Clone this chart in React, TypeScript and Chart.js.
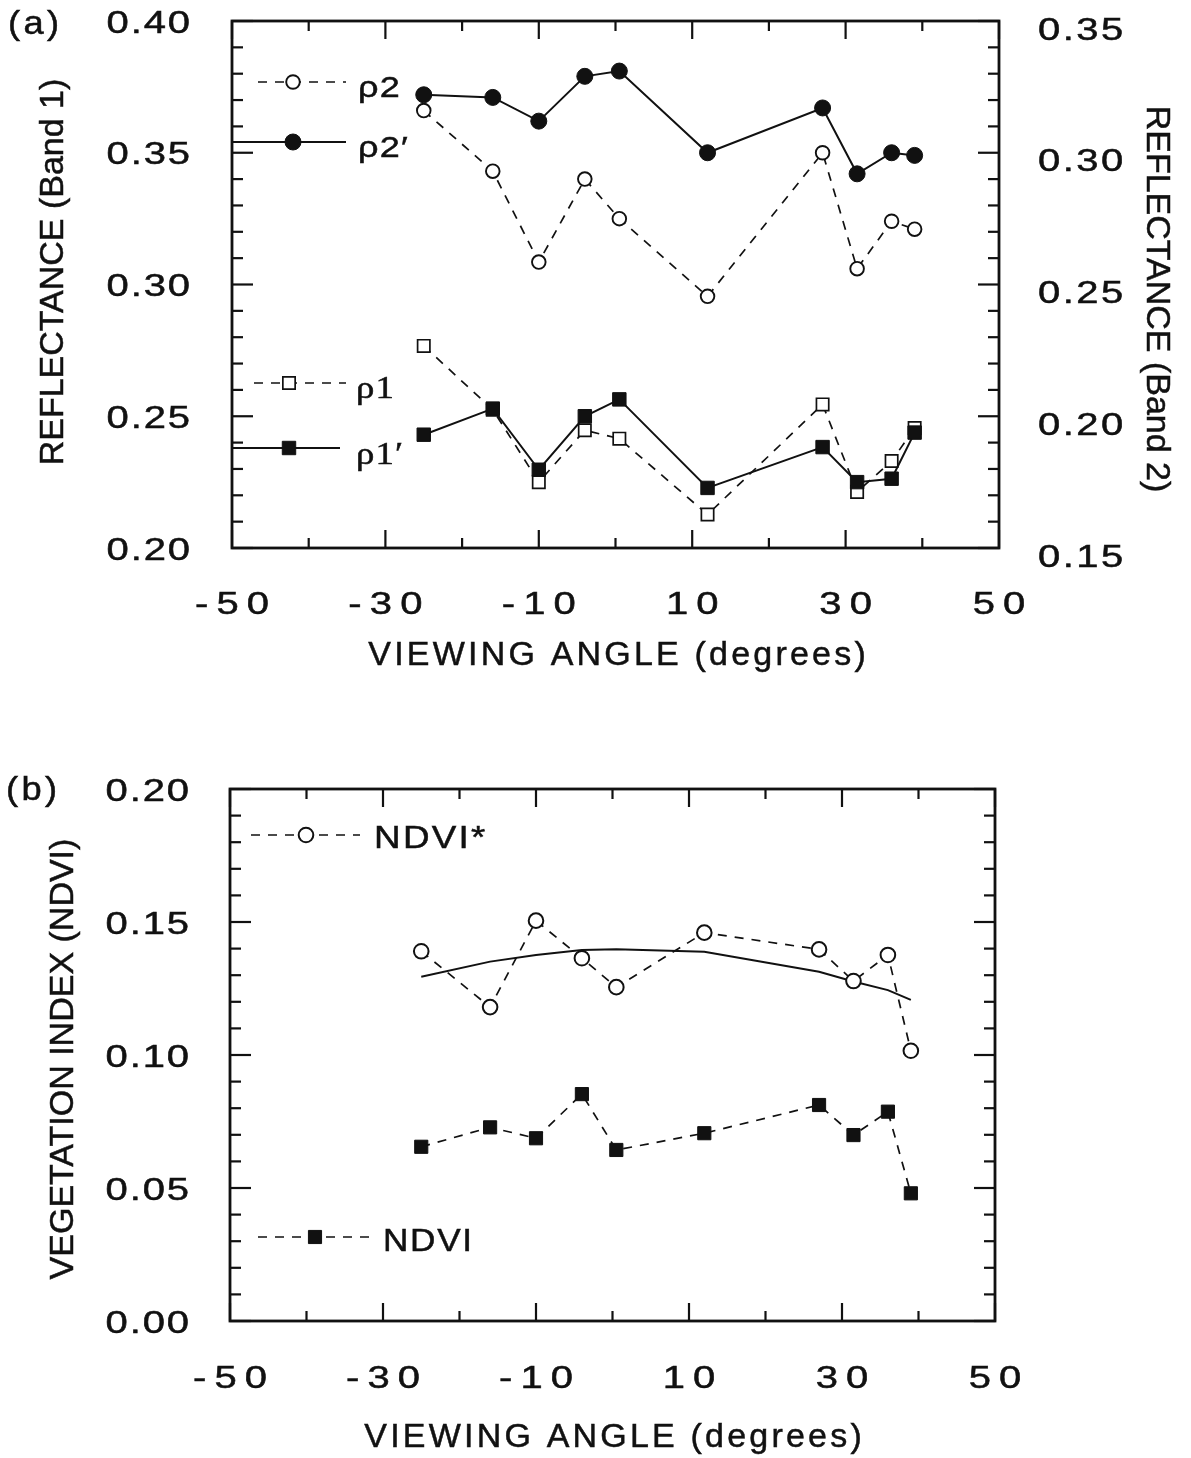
import React, { useEffect, useRef } from "react";
import { Chart, registerables } from "chart.js";

Chart.register(...registerables);

// ---------------- data ----------------
const ANGLES = [-25, -16, -10, -4, 0.5, 12, 27, 31.5, 36, 39];

// band 2 (right axis of panel a)
const RHO2 = [0.316, 0.293, 0.2585, 0.29, 0.275, 0.2455, 0.3, 0.256, 0.274, 0.271];
const RHO2_PRIME = [0.322, 0.321, 0.312, 0.329, 0.331, 0.3, 0.317, 0.292, 0.3, 0.299];
// band 1 (left axis of panel a)
const RHO1 = [0.2767, 0.2525, 0.225, 0.2447, 0.2415, 0.2127, 0.2545, 0.2213, 0.233, 0.2455];
const RHO1_PRIME = [0.243, 0.2529, 0.2297, 0.25, 0.2564, 0.2228, 0.2383, 0.225, 0.2263, 0.2438];

// panel b
const NDVI_STAR = [0.139, 0.118, 0.1505, 0.1364, 0.1255, 0.146, 0.1397, 0.1278, 0.1376, 0.1016];
const NDVI_FIT = [0.1294, 0.1351, 0.1376, 0.1395, 0.1398, 0.1388, 0.1313, 0.1276, 0.1244, 0.1207];
const NDVI = [0.0655, 0.0728, 0.0687, 0.0853, 0.0643, 0.0706, 0.0812, 0.0699, 0.0787, 0.048];

const X_TICK_LABELS = ["-50", "-30", "-10", "10", "30", "50"];
const BAND1_TICK_LABELS = ["0.20", "0.25", "0.30", "0.35", "0.40"];
const BAND2_TICK_LABELS = ["0.15", "0.20", "0.25", "0.30", "0.35"];
const NDVI_TICK_LABELS = ["0.00", "0.05", "0.10", "0.15", "0.20"];

// ---------------- styles ----------------
const W = 1191;
const TOP_H = 720;
const BOT_H = 738;
const INK = "#111111";
const SANS = '"Liberation Sans", Arial, Helvetica, sans-serif';
const SERIF = '"Liberation Serif", "Times New Roman", serif';
const DASH = [9, 8];

type MarkerStyle = {
  pointStyle: "circle" | "rect" | false;
  filled: boolean;
  radius: number;
  border: number;
  dashed: boolean;
};

const ST_RHO2: MarkerStyle = { pointStyle: "circle", filled: false, radius: 6.8, border: 1.9, dashed: true };
const ST_RHO2P: MarkerStyle = { pointStyle: "circle", filled: true, radius: 8, border: 1, dashed: false };
const ST_RHO1: MarkerStyle = { pointStyle: "rect", filled: false, radius: 8.7, border: 1.7, dashed: true };
const ST_RHO1P: MarkerStyle = { pointStyle: "rect", filled: true, radius: 9.5, border: 1, dashed: false };
const ST_NDVIS: MarkerStyle = { pointStyle: "circle", filled: false, radius: 7.3, border: 2, dashed: true };
const ST_FIT: MarkerStyle = { pointStyle: false, filled: false, radius: 0, border: 0, dashed: false };
const ST_NDVI: MarkerStyle = { pointStyle: "rect", filled: true, radius: 9.3, border: 1, dashed: true };

type TextOpts = {
  size: number;
  family?: string;
  scaleX?: number;
  spacing?: number;
  align?: "left" | "center" | "right";
  rotate?: number;
  stroke?: number;
};

function drawText(ctx: CanvasRenderingContext2D, text: string, x: number, y: number, o: TextOpts) {
  const family = o.family ?? SANS;
  const k = o.scaleX ?? 1;
  const s = o.spacing ?? 0;
  const align = o.align ?? "left";
  const stroke = o.stroke ?? 0.5;
  const c: any = ctx;
  ctx.save();
  ctx.font = `${o.size}px ${family}`;
  ctx.fillStyle = INK;
  ctx.strokeStyle = INK;
  ctx.lineWidth = stroke;
  ctx.setLineDash([]);
  ctx.textAlign = "left";
  ctx.textBaseline = "alphabetic";
  const hasLS = "letterSpacing" in c;
  if (hasLS) c.letterSpacing = "0px";
  const chars = Array.from(text);
  const natural = ctx.measureText(text).width;
  const width = (natural + s * (chars.length - 1)) * k;
  ctx.translate(x, y);
  if (o.rotate) ctx.rotate(o.rotate);
  const start = align === "left" ? 0 : align === "center" ? -width / 2 : -width;
  ctx.translate(start, 0);
  ctx.scale(k, 1);
  if (hasLS) {
    c.letterSpacing = `${s}px`;
    ctx.fillText(text, 0, 0);
    if (stroke > 0) ctx.strokeText(text, 0, 0);
  } else {
    let cx = 0;
    for (const ch of chars) {
      ctx.fillText(ch, cx, 0);
      if (stroke > 0) ctx.strokeText(ch, cx, 0);
      cx += ctx.measureText(ch).width + s;
    }
  }
  ctx.restore();
}

function drawMarker(ctx: CanvasRenderingContext2D, st: MarkerStyle, x: number, y: number) {
  if (!st.pointStyle) return;
  ctx.save();
  ctx.setLineDash([]);
  ctx.lineWidth = st.border;
  ctx.strokeStyle = INK;
  ctx.fillStyle = st.filled ? INK : "#ffffff";
  ctx.beginPath();
  if (st.pointStyle === "circle") ctx.arc(x, y, st.radius, 0, Math.PI * 2);
  else {
    const h = st.radius * Math.SQRT1_2;
    ctx.rect(x - h, y - h, 2 * h, 2 * h);
  }
  ctx.fill();
  ctx.stroke();
  ctx.restore();
}

function dataset(label: string, ys: number[], st: MarkerStyle, yAxisID: string, order: number) {
  return {
    label,
    data: ANGLES.map((x, i) => ({ x, y: ys[i] })),
    showLine: true,
    borderColor: INK,
    borderWidth: st.dashed ? 1.7 : 2,
    borderDash: st.dashed ? DASH : [],
    pointStyle: st.pointStyle,
    pointRadius: st.radius,
    pointHoverRadius: st.radius,
    pointBorderWidth: st.border,
    pointBackgroundColor: st.filled ? INK : "#ffffff",
    pointBorderColor: INK,
    tension: 0,
    yAxisID,
    order,
    clip: false,
  };
}

type LegendItem = {
  label: string;
  family: string;
  style: MarkerStyle;
  dy: number; // line y relative to chart-area top
  x0: number; // line start relative to chart-area left
  x1: number;
  mx: number; // marker x
  tx: number; // text x
  tdy: number; // text baseline relative to line y
  size: number;
  scaleX: number;
  spacing: number;
};

type FigureCfg = {
  id: string;
  panel: { text: string; x: number; y: number };
  leftScale: string;
  leftLabels: string[];
  rightScale: string;
  rightLabels: string[] | null;
  leftTitle: { text: string; x: number; y: number };
  rightTitle: { text: string; x: number; y: number } | null;
  xTitle: { text: string; x: number; y: number };
  xLabelOffset: number;
  yLabelRight: number;
  legend: LegendItem[];
};

const TICK_FONT = 32;
const TICK_SCALE = 1.25;

function makePlugin(cfg: FigureCfg) {
  const line = (ctx: CanvasRenderingContext2D, x0: number, y0: number, x1: number, y1: number) => {
    ctx.beginPath();
    ctx.moveTo(x0, y0);
    ctx.lineTo(x1, y1);
    ctx.stroke();
  };
  const yTicks = (chart: any, scaleId: string, labels: string[], side: "left" | "right") => {
    const ctx: CanvasRenderingContext2D = chart.ctx;
    const a = chart.chartArea;
    const sc = chart.scales[scaleId];
    const min = parseFloat(labels[0]);
    const max = parseFloat(labels[labels.length - 1]);
    const n = Math.round((max - min) / 0.01);
    for (let i = 0; i <= n; i++) {
      const py = sc.getPixelForValue(min + i * 0.01);
      const len = i % 5 === 0 ? 21 : 11;
      if (side === "left") line(ctx, a.left, py, a.left + len, py);
      else line(ctx, a.right, py, a.right - len, py);
    }
  };
  return {
    id: "figure-" + cfg.id,
    beforeDatasetsDraw(chart: any) {
      const ctx: CanvasRenderingContext2D = chart.ctx;
      const a = chart.chartArea;
      const xs = chart.scales.x;
      ctx.save();
      ctx.strokeStyle = INK;
      ctx.setLineDash([]);
      ctx.lineWidth = 2.2;
      const xMin = parseFloat(X_TICK_LABELS[0]);
      const xMax = parseFloat(X_TICK_LABELS[X_TICK_LABELS.length - 1]);
      for (let i = 0; i <= Math.round((xMax - xMin) / 10); i++) {
        const px = xs.getPixelForValue(xMin + i * 10);
        const len = i % 2 === 0 ? 18 : 10;
        line(ctx, px, a.bottom, px, a.bottom - len);
        line(ctx, px, a.top, px, a.top + len);
      }
      yTicks(chart, cfg.leftScale, cfg.leftLabels, "left");
      yTicks(chart, cfg.rightScale, cfg.rightLabels ?? cfg.leftLabels, "right");
      ctx.lineWidth = 2.8;
      ctx.strokeRect(a.left, a.top, a.right - a.left, a.bottom - a.top);
      ctx.restore();
    },
    afterDatasetsDraw(chart: any) {
      const ctx: CanvasRenderingContext2D = chart.ctx;
      const a = chart.chartArea;
      const xs = chart.scales.x;
      // x tick labels
      for (const lab of X_TICK_LABELS) {
        const px = xs.getPixelForValue(parseFloat(lab));
        drawText(ctx, lab, px, a.bottom + cfg.xLabelOffset, {
          size: TICK_FONT, scaleX: TICK_SCALE, spacing: 6.5, align: "center",
        });
      }
      // left y labels
      const ls = chart.scales[cfg.leftScale];
      for (const lab of cfg.leftLabels) {
        const py = ls.getPixelForValue(parseFloat(lab));
        drawText(ctx, lab, cfg.yLabelRight, py + 11.5, {
          size: TICK_FONT, scaleX: TICK_SCALE, spacing: 1.5, align: "right",
        });
      }
      if (cfg.rightLabels) {
        const rs = chart.scales[cfg.rightScale];
        for (const lab of cfg.rightLabels) {
          const py = rs.getPixelForValue(parseFloat(lab));
          drawText(ctx, lab, a.right + 39, py + 18.5, {
            size: TICK_FONT, scaleX: TICK_SCALE, spacing: 2, align: "left",
          });
        }
      }
      // titles
      drawText(ctx, cfg.xTitle.text, cfg.xTitle.x, cfg.xTitle.y, { size: 34, spacing: 3.2, align: "center" });
      drawText(ctx, cfg.leftTitle.text, cfg.leftTitle.x, cfg.leftTitle.y, {
        size: 34, spacing: 0, align: "center", rotate: -Math.PI / 2,
      });
      if (cfg.rightTitle) {
        drawText(ctx, cfg.rightTitle.text, cfg.rightTitle.x, cfg.rightTitle.y, {
          size: 34, spacing: 0, align: "center", rotate: Math.PI / 2,
        });
      }
      drawText(ctx, cfg.panel.text, cfg.panel.x, cfg.panel.y, { size: 33, scaleX: 1.1, spacing: 3 });
      // legend
      for (const it of cfg.legend) {
        const y = a.top + it.dy;
        ctx.save();
        ctx.strokeStyle = INK;
        ctx.lineWidth = it.style.dashed ? 1.7 : 2;
        ctx.setLineDash(it.style.dashed ? DASH : []);
        line(ctx, a.left + it.x0, y, a.left + it.x1, y);
        ctx.restore();
        drawMarker(ctx, it.style, a.left + it.mx, y);
        drawText(ctx, it.label, a.left + it.tx, y + it.tdy, {
          size: it.size, family: it.family, scaleX: it.scaleX, spacing: it.spacing,
        });
      }
    },
  };
}

const TOP_CFG: FigureCfg = {
  id: "a",
  panel: { text: "(a)", x: 8, y: 34 },
  leftScale: "y",
  leftLabels: BAND1_TICK_LABELS,
  rightScale: "y2",
  rightLabels: BAND2_TICK_LABELS,
  leftTitle: { text: "REFLECTANCE (Band 1)", x: 63, y: 272 },
  rightTitle: { text: "REFLECTANCE (Band 2)", x: 1147, y: 299 },
  xTitle: { text: "VIEWING ANGLE (degrees)", x: 617, y: 665 },
  xLabelOffset: 66,
  yLabelRight: 190,
  legend: [
    { label: "ρ2", family: SANS, style: ST_RHO2, dy: 61, x0: 26, x1: 114, mx: 61, tx: 126, tdy: 15, size: 30, scaleX: 1.2, spacing: 1 },
    { label: "ρ2′", family: SANS, style: ST_RHO2P, dy: 121, x0: 0, x1: 114, mx: 61, tx: 126, tdy: 15, size: 30, scaleX: 1.2, spacing: 1 },
    { label: "ρ1", family: SERIF, style: ST_RHO1, dy: 362, x0: 22, x1: 114, mx: 57, tx: 124, tdy: 15, size: 32, scaleX: 1.15, spacing: 1 },
    { label: "ρ1′", family: SERIF, style: ST_RHO1P, dy: 427, x0: 0, x1: 108, mx: 57, tx: 124, tdy: 16, size: 32, scaleX: 1.15, spacing: 1 },
  ],
};

const BOT_CFG: FigureCfg = {
  id: "b",
  panel: { text: "(b)", x: 6, y: 80 },
  leftScale: "y",
  leftLabels: NDVI_TICK_LABELS,
  rightScale: "y",
  rightLabels: null,
  leftTitle: { text: "VEGETATION INDEX (NDVI)", x: 73, y: 339 },
  rightTitle: null,
  xTitle: { text: "VIEWING ANGLE (degrees)", x: 613, y: 727 },
  xLabelOffset: 67,
  yLabelRight: 189,
  legend: [
    { label: "NDVI*", family: SANS, style: ST_NDVIS, dy: 46, x0: 21, x1: 130, mx: 76, tx: 144, tdy: 13, size: 32, scaleX: 1.15, spacing: 2 },
    { label: "NDVI", family: SANS, style: ST_NDVI, dy: 448, x0: 28, x1: 139, mx: 85, tx: 153, tdy: 14, size: 32, scaleX: 1.1, spacing: 1.5 },
  ],
};

function baseOptions(padding: { left: number; right: number; top: number; bottom: number }, scales: any) {
  return {
    responsive: false,
    animation: false as const,
    events: [] as any[],
    layout: { padding },
    plugins: {
      legend: { display: false },
      tooltip: { enabled: false },
      title: { display: false },
    },
    scales,
  };
}

export default function App() {
  const topRef = useRef<HTMLCanvasElement>(null);
  const botRef = useRef<HTMLCanvasElement>(null);

  useEffect(() => {
    const topChart = new Chart(topRef.current as HTMLCanvasElement, {
      type: "scatter",
      data: {
        datasets: [
          dataset("ρ2", RHO2, ST_RHO2, "y2", 4),
          dataset("ρ2′", RHO2_PRIME, ST_RHO2P, "y2", 3),
          dataset("ρ1", RHO1, ST_RHO1, "y", 2),
          dataset("ρ1′", RHO1_PRIME, ST_RHO1P, "y", 1),
        ] as any,
      },
      options: baseOptions(
        { left: 232, right: W - 999, top: 21, bottom: TOP_H - 548 },
        {
          x: { type: "linear", min: -50, max: 50, display: false },
          y: { type: "linear", position: "left", min: 0.2, max: 0.4, display: false },
          y2: { type: "linear", position: "right", min: 0.15, max: 0.35, display: false },
        }
      ) as any,
      plugins: [makePlugin(TOP_CFG)],
    });

    const botChart = new Chart(botRef.current as HTMLCanvasElement, {
      type: "scatter",
      data: {
        datasets: [
          dataset("NDVI*", NDVI_STAR, ST_NDVIS, "y", 2),
          dataset("fit", NDVI_FIT, ST_FIT, "y", 3),
          dataset("NDVI", NDVI, ST_NDVI, "y", 1),
        ] as any,
      },
      options: baseOptions(
        { left: 230, right: W - 995, top: 789 - TOP_H, bottom: BOT_H - (1321 - TOP_H) },
        {
          x: { type: "linear", min: -50, max: 50, display: false },
          y: { type: "linear", position: "left", min: 0, max: 0.2, display: false },
        }
      ) as any,
      plugins: [makePlugin(BOT_CFG)],
    });

    return () => {
      topChart.destroy();
      botChart.destroy();
    };
  }, []);

  return (
    <div style={{ position: "absolute", left: 0, top: 0, width: W, height: TOP_H + BOT_H, background: "#ffffff" }}>
      <canvas
        ref={topRef}
        width={W}
        height={TOP_H}
        style={{ position: "absolute", left: 0, top: 0, width: W, height: TOP_H }}
      />
      <canvas
        ref={botRef}
        width={W}
        height={BOT_H}
        style={{ position: "absolute", left: 0, top: TOP_H, width: W, height: BOT_H }}
      />
    </div>
  );
}
